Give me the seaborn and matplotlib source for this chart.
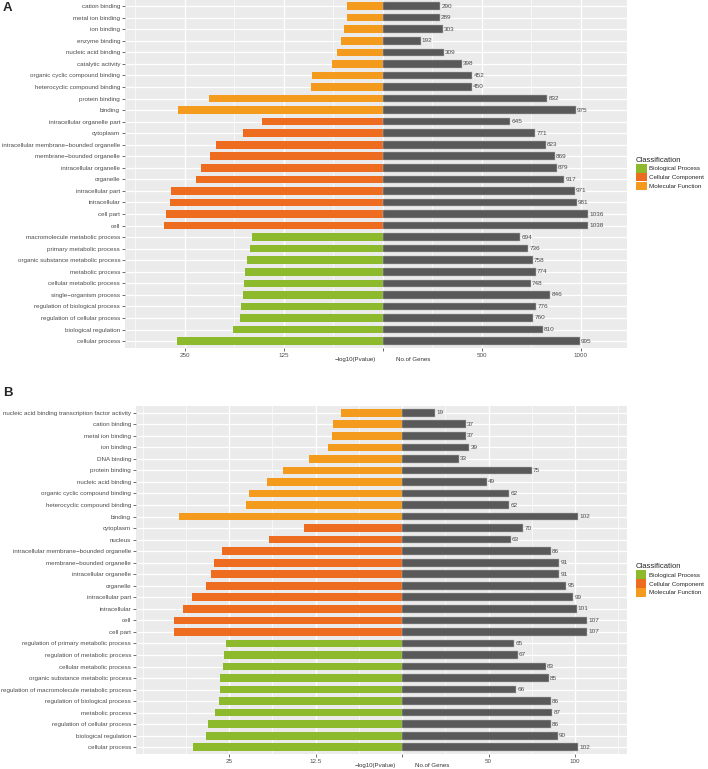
import matplotlib
matplotlib.use("Agg")
import matplotlib.pyplot as plt
import pandas as pd
import seaborn as sns
from matplotlib.ticker import FixedLocator, FixedFormatter

# ---- data -------------------------------------------------------------
classes = ["Biological Process", "Cellular Component", "Molecular Function"]
class_colors = ["#8CBA2C", "#EE6C1F", "#F49B1E"]
code_names = {"BP": "Biological Process", "CC": "Cellular Component", "MF": "Molecular Function"}

terms_a = [
    "cation binding", "metal ion binding", "ion binding", "enzyme binding",
    "nucleic acid binding", "catalytic activity", "organic cyclic compound binding",
    "heterocyclic compound binding", "protein binding", "binding",
    "intracellular organelle part", "cytoplasm", "intracellular membrane\u2212bounded organelle",
    "membrane\u2212bounded organelle", "intracellular organelle", "organelle",
    "intracellular part", "intracellular", "cell part", "cell",
    "macromolecule metabolic process", "primary metabolic process",
    "organic substance metabolic process", "metabolic process", "cellular metabolic process",
    "single\u2212organism process", "regulation of biological process",
    "regulation of cellular process", "biological regulation", "cellular process",
]
codes_a = ["MF", "MF", "MF", "MF", "MF", "MF", "MF", "MF", "MF", "MF",
           "CC", "CC", "CC", "CC", "CC", "CC", "CC", "CC", "CC", "CC",
           "BP", "BP", "BP", "BP", "BP", "BP", "BP", "BP", "BP", "BP"]
pval_a = [45, 44.7, 48.4, 53, 58, 64.6, 89.2, 90, 219, 258,
          151.7, 176, 210.4, 217.5, 229.6, 235.8, 267, 268, 274, 275.5,
          165.5, 167, 171, 174, 175, 176.7, 178.4, 180.4, 188.8, 259.2]
genes_a = [290, 289, 303, 192, 309, 398, 452, 450, 832, 975,
           645, 771, 823, 869, 879, 917, 971, 981, 1036, 1038,
           694, 736, 758, 774, 748, 846, 776, 760, 810, 995]

terms_b = [
    "nucleic acid binding transcription factor activity", "cation binding",
    "metal ion binding", "ion binding", "DNA binding", "protein binding",
    "nucleic acid binding", "organic cyclic compound binding",
    "heterocyclic compound binding", "binding",
    "cytoplasm", "nucleus", "intracellular membrane\u2212bounded organelle",
    "membrane\u2212bounded organelle", "intracellular organelle", "organelle",
    "intracellular part", "intracellular", "cell", "cell part",
    "regulation of primary metabolic process", "regulation of metabolic process",
    "cellular metabolic process", "organic substance metabolic process",
    "regulation of macromolecule metabolic process", "regulation of biological process",
    "metabolic process", "regulation of cellular process", "biological regulation",
    "cellular process",
]
codes_b = codes_a
pval_b = [8.85, 9.95, 10.1, 10.77, 13.46, 17.26, 19.47, 22.16, 22.5, 32.26,
          14.13, 19.28, 25.96, 27.16, 27.6, 28.4, 30.4, 31.6, 33, 33,
          25.43, 25.67, 25.87, 26.25, 26.25, 26.5, 26.97, 28.03, 28.27, 30.2]
genes_b = [19, 37, 37, 39, 33, 75, 49, 62, 62, 102,
           70, 63, 86, 91, 91, 95, 99, 101, 107, 107,
           65, 67, 83, 85, 66, 86, 87, 86, 90, 102]

ticks_a = [-1000, -500, 0, 500, 1000]
tick_labels_a = ["250", "125", "", "500", "1000"]
minor_a = [-1250, -750, -250, 250, 750, 1250]
ticks_b = [-100, -50, 0, 50, 100]
tick_labels_b = ["25", "12.5", "", "50", "100"]
minor_b = [-150, -125, -75, -25, 25, 75, 125]

# -log10(P) is drawn at 4x so it shares the axis with gene counts
P_SCALE = 4

W, H = 708, 769
sns.set_theme(style="darkgrid")
plt.rcParams["font.family"] = ["Liberation Sans", "DejaVu Sans"]
plt.rcParams["axes.facecolor"] = "#EBEBEB"

fig = plt.figure(figsize=(W / 100, H / 100), dpi=100)


def draw_panel(ax, terms, codes, pvals, genes, ticks, tick_labels, minor, xlim):
    df = pd.DataFrame({
        "term": terms,
        "Classification": [code_names[c] for c in codes],
        "logp": [-P_SCALE * p for p in pvals],
        "genes": genes,
    })
    sns.barplot(data=df, y="term", x="logp", hue="Classification",
                hue_order=classes, palette=class_colors, order=terms,
                dodge=False, width=0.66, saturation=1, errorbar=None,
                orient="h", ax=ax, zorder=3, linewidth=0)
    sns.barplot(data=df, y="term", x="genes", order=terms, color="#595959",
                width=0.66, saturation=1, errorbar=None, orient="h", ax=ax,
                zorder=3, edgecolor="#B8B8B8", linewidth=0.35)

    for i, g in enumerate(genes):
        ax.annotate(str(g), xy=(g, i), xytext=(0.8, 0), textcoords="offset points",
                    ha="left", va="center", fontsize=4.6, color="#4A4A4A")

    ax.set_xlim(*xlim)
    ax.set_ylim(len(terms) - 0.4, -0.6)
    ax.xaxis.set_major_locator(FixedLocator(ticks))
    ax.xaxis.set_major_formatter(FixedFormatter(tick_labels))
    ax.xaxis.set_minor_locator(FixedLocator(minor))
    ax.grid(which="major", axis="x", color="white", linewidth=0.9)
    ax.grid(which="minor", axis="x", color="white", linewidth=0.45)
    ax.grid(which="major", axis="y", color="white", linewidth=0.9)
    ax.set_axisbelow(True)
    ax.tick_params(axis="both", which="major", length=2, width=0.5, color="#333333",
                   labelsize=4.5, labelcolor="#4D4D4D", pad=1.5, bottom=True, left=True)
    ax.tick_params(axis="x", which="minor", length=0)
    ax.set_xlabel("")
    ax.set_ylabel("")
    for s in ax.spines.values():
        s.set_visible(False)

    ax.annotate("\u2212log10(Pvalue)", xy=(0, 0), xycoords=ax.get_xaxis_transform(),
                xytext=(-19.5, -8.0), textcoords="offset points", ha="center",
                va="center", fontsize=4.4, color="#333333")
    ax.annotate("No.of Genes", xy=(0, 0), xycoords=ax.get_xaxis_transform(),
                xytext=(22, -8.0), textcoords="offset points", ha="center",
                va="center", fontsize=4.4, color="#333333")

    sns.move_legend(ax, "center left", bbox_to_anchor=(1.018, 0.5), frameon=False,
                    title="Classification", fontsize=4.5, title_fontsize=5.5,
                    handlelength=1.75, handleheight=1.75, labelspacing=0.02,
                    handletextpad=0.35, borderaxespad=0, borderpad=0,
                    alignment="left")


ax_a = fig.add_axes([125 / W, 1 - 348 / H, (626.7 - 125) / W, 348.8 / H])
draw_panel(ax_a, terms_a, codes_a, pval_a, genes_a, ticks_a, tick_labels_a,
           minor_a, (-1301, 1232))

ax_b = fig.add_axes([136 / W, 1 - 754.2 / H, (626.7 - 136) / W, 348.4 / H])
draw_panel(ax_b, terms_b, codes_b, pval_b, genes_b, ticks_b, tick_labels_b,
           minor_b, (-153.8, 129.9))

fig.text(3 / W, 1 - 8 / H, "A", fontsize=9.5, fontweight="bold", va="center", ha="left")
fig.text(3 / W, 1 - 393 / H, "B", fontsize=9.5, fontweight="bold", va="center", ha="left")

fig.savefig("out.png", dpi=100, facecolor="white")
